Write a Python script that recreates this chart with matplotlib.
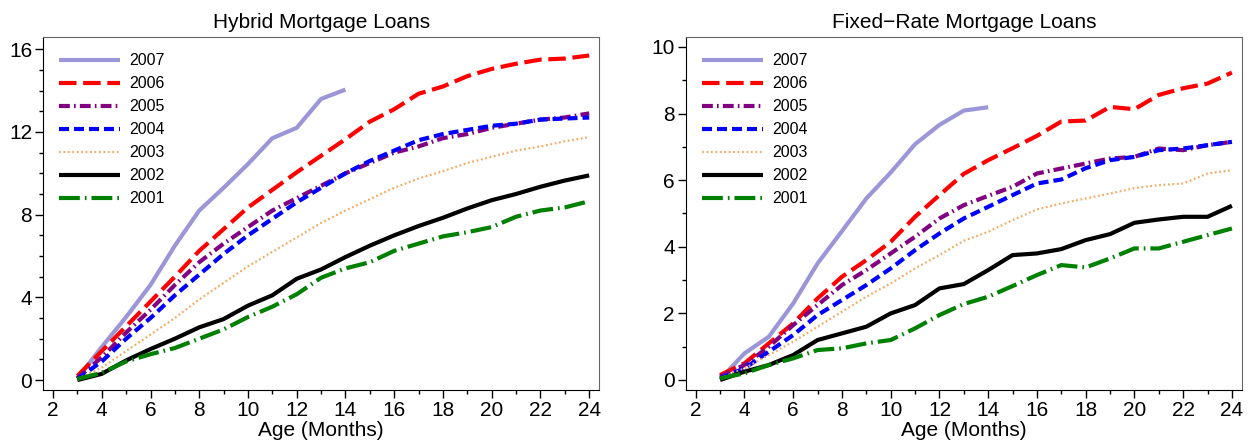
import matplotlib.pyplot as plt
from matplotlib.ticker import MultipleLocator

plt.rcParams['font.family'] = ['Liberation Sans', 'DejaVu Sans']

# cumulative default rates (%) by loan age
months = list(range(3, 25))
years = ["2007", "2006", "2005", "2004", "2003", "2002", "2001"]

hybrid_2007 = [0.08, 1.6, 3.05, 4.6, 6.5, 8.2, 9.3, 10.45, 11.7, 12.2, 13.6, 14.05]
hybrid_2006 = [0.2, 1.4, 2.6, 3.8, 5.0, 6.25, 7.3, 8.35, 9.2, 10.05, 10.85, 11.65,
               12.5, 13.1, 13.85, 14.2, 14.7, 15.05, 15.3, 15.5, 15.55, 15.7]
hybrid_2005 = [0.1, 1.1, 2.3, 3.4, 4.6, 5.7, 6.6, 7.4, 8.2, 8.8, 9.4, 10.0,
               10.5, 11.0, 11.3, 11.7, 11.9, 12.2, 12.4, 12.6, 12.7, 12.9]
hybrid_2004 = [0.05, 0.9, 2.0, 3.0, 4.1, 5.1, 6.1, 7.0, 7.8, 8.6, 9.3, 10.0,
               10.6, 11.1, 11.6, 11.9, 12.1, 12.3, 12.4, 12.6, 12.65, 12.7]
hybrid_2003 = [0.05, 0.6, 1.4, 2.2, 3.0, 3.9, 4.7, 5.5, 6.2, 6.9, 7.6, 8.2,
               8.75, 9.3, 9.75, 10.1, 10.5, 10.8, 11.1, 11.3, 11.55, 11.75]
hybrid_2002 = [0.0, 0.3, 0.95, 1.5, 2.0, 2.55, 2.95, 3.6, 4.1, 4.9, 5.35, 5.95,
               6.5, 7.0, 7.45, 7.85, 8.3, 8.7, 9.0, 9.35, 9.65, 9.9]
hybrid_2001 = [0.05, 0.35, 0.9, 1.25, 1.55, 2.0, 2.45, 3.05, 3.55, 4.15, 4.95, 5.4,
               5.7, 6.25, 6.6, 6.95, 7.15, 7.4, 7.9, 8.2, 8.35, 8.65]

fixed_2007 = [0.02, 0.8, 1.3, 2.3, 3.5, 4.47, 5.45, 6.23, 7.08, 7.66, 8.09, 8.19]
fixed_2006 = [0.15, 0.5, 1.1, 1.7, 2.45, 3.1, 3.6, 4.15, 4.9, 5.55, 6.19, 6.6,
              6.96, 7.33, 7.76, 7.79, 8.2, 8.13, 8.56, 8.76, 8.9, 9.23]
fixed_2005 = [0.1, 0.45, 1.0, 1.65, 2.25, 2.85, 3.3, 3.8, 4.3, 4.85, 5.25, 5.53,
              5.8, 6.2, 6.35, 6.5, 6.65, 6.7, 6.95, 6.9, 7.05, 7.15]
fixed_2004 = [0.05, 0.35, 0.85, 1.35, 1.95, 2.4, 2.85, 3.35, 3.9, 4.4, 4.85, 5.2,
              5.55, 5.9, 6.02, 6.36, 6.6, 6.7, 6.9, 6.95, 7.05, 7.15]
fixed_2003 = [0.05, 0.35, 0.75, 1.15, 1.6, 2.05, 2.5, 2.9, 3.35, 3.75, 4.18, 4.45,
              4.8, 5.12, 5.3, 5.45, 5.6, 5.76, 5.85, 5.9, 6.2, 6.3]
fixed_2002 = [0.0, 0.25, 0.45, 0.75, 1.2, 1.4, 1.6, 2.0, 2.25, 2.75, 2.88, 3.3,
              3.75, 3.8, 3.93, 4.2, 4.38, 4.72, 4.82, 4.9, 4.9, 5.23]
fixed_2001 = [0.05, 0.2, 0.45, 0.65, 0.9, 0.95, 1.1, 1.2, 1.55, 1.95, 2.28, 2.5,
              2.82, 3.15, 3.45, 3.38, 3.65, 3.95, 3.95, 4.15, 4.35, 4.55]

hybrid = [hybrid_2007, hybrid_2006, hybrid_2005, hybrid_2004, hybrid_2003, hybrid_2002, hybrid_2001]
fixed = [fixed_2007, fixed_2006, fixed_2005, fixed_2004, fixed_2003, fixed_2002, fixed_2001]

styles = [
    dict(color='#9a96d8', lw=3.0, ls='-'),
    dict(color='#ff0000', lw=3.0, ls=(0, (4.2, 1.6))),
    dict(color='#800080', lw=3.0, ls=(0, (2.6, 1.0, 0.4, 1.0))),
    dict(color='#0000ff', lw=3.0, ls=(0, (2.4, 1.2))),
    dict(color='#f5a860', lw=1.6, ls=(0, (0.8, 1.2))),
    dict(color='#000000', lw=3.0, ls='-'),
    dict(color='#008000', lw=3.0, ls=(0, (5.0, 1.2, 0.4, 1.2))),
]

fig = plt.figure(figsize=(12.58, 4.46), dpi=100)
ax1 = fig.add_axes([0.0344, 0.1256, 0.4417, 0.7908])
ax2 = fig.add_axes([0.5453, 0.1256, 0.4417, 0.7908])

panels = [
    (ax1, hybrid, "Hybrid Mortgage Loans", (-0.48, 16.58), 4),
    (ax2, fixed, "Fixed\u2212Rate Mortgage Loans", (-0.3, 10.29), 2),
]

for ax, data, title, ylim, ystep in panels:
    for yr, vals, st in zip(years, data, styles):
        ax.plot(months[:len(vals)], vals, label=yr, solid_capstyle='butt',
                dash_capstyle='butt', **st)
    ax.set_xlim(1.6, 24.4)
    ax.set_ylim(*ylim)
    ax.xaxis.set_major_locator(MultipleLocator(2))
    ax.xaxis.set_minor_locator(MultipleLocator(1))
    ax.yaxis.set_major_locator(MultipleLocator(ystep))
    ax.yaxis.set_minor_locator(MultipleLocator(1))
    ax.tick_params(which='major', length=6, width=1, labelsize=15, pad=2)
    ax.tick_params(which='minor', length=3, width=1)
    for s in ['top', 'right']:
        ax.spines[s].set_color('#666666')
    ax.set_title(title, fontsize=15, pad=7)
    ax.set_xlabel("Age (Months)", fontsize=15, labelpad=1)
    ax.legend(loc='upper left', frameon=False, fontsize=11.5, handlelength=3.8,
              handletextpad=0.6, labelspacing=0.5, borderaxespad=0.6,
              bbox_to_anchor=(0.0, 1.0))

fig.savefig('out.png', dpi=100)
